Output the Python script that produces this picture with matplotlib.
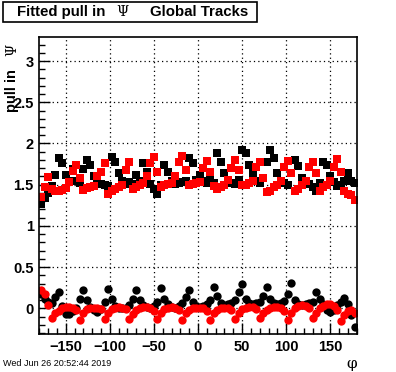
import numpy as np
import matplotlib.pyplot as plt
from matplotlib.patches import Rectangle
from matplotlib.ticker import MultipleLocator, FuncFormatter

# phi bin centres, 4 degree bins
phi = np.arange(-178, 180, 4)

# upper band: squares
black_sq = [1.27, 1.34, 1.40, 1.48, 1.62, 1.82, 1.76, 1.62, 1.55, 1.69,
            1.55, 1.52, 1.69, 1.80, 1.74, 1.60, 1.55, 1.51, 1.50, 1.49,
            1.84, 1.77, 1.64, 1.55, 1.51, 1.53, 1.51, 1.62, 1.55, 1.76,
            1.66, 1.51, 1.45, 1.39, 1.50, 1.74, 1.66, 1.55, 1.51, 1.52,
            1.53, 1.55, 1.82, 1.76, 1.56, 1.62, 1.54, 1.52, 1.60, 1.52,
            1.88, 1.78, 1.64, 1.55, 1.52, 1.51, 1.56, 1.92, 1.88, 1.74,
            1.64, 1.55, 1.52, 1.58, 1.78, 1.92, 1.82, 1.64, 1.55, 1.52,
            1.50, 1.64, 1.80, 1.73, 1.58, 1.54, 1.51, 1.47, 1.43, 1.52,
            1.78, 1.74, 1.60, 1.53, 1.49, 1.50, 1.55, 1.64, 1.54, 1.52]
red_sq = [1.35, 1.47, 1.59, 1.45, 1.43, 1.43, 1.44, 1.46, 1.53, 1.67,
          1.74, 1.58, 1.44, 1.46, 1.47, 1.48, 1.60, 1.66, 1.76, 1.39,
          1.42, 1.45, 1.47, 1.50, 1.68, 1.77, 1.45, 1.47, 1.50, 1.52,
          1.60, 1.76, 1.84, 1.66, 1.47, 1.50, 1.51, 1.52, 1.60, 1.78,
          1.85, 1.68, 1.50, 1.51, 1.52, 1.53, 1.70, 1.79, 1.66, 1.48,
          1.45, 1.47, 1.50, 1.56, 1.70, 1.80, 1.68, 1.50, 1.50, 1.52,
          1.54, 1.72, 1.78, 1.58, 1.41, 1.43, 1.47, 1.50, 1.54, 1.71,
          1.79, 1.64, 1.43, 1.45, 1.50, 1.55, 1.71, 1.77, 1.64, 1.43,
          1.47, 1.50, 1.55, 1.72, 1.81, 1.66, 1.42, 1.39, 1.37, 1.31]

# lower band: circles
black_ci = [0.18, 0.12, 0.08, 0.07, 0.14, 0.20, 0.03, -0.07, -0.07, -0.03,
            0.00, 0.12, 0.22, 0.10, 0.02, -0.02, -0.04, -0.01, 0.08, 0.24,
            0.12, 0.03, 0.01, 0.00, 0.01, 0.04, 0.12, 0.22, 0.10, 0.04,
            0.02, 0.01, 0.03, 0.08, 0.25, 0.12, 0.05, 0.02, 0.01, 0.03,
            0.06, 0.14, 0.22, 0.08, 0.03, 0.02, 0.03, 0.05, 0.10, 0.26,
            0.15, 0.06, 0.04, 0.05, 0.06, 0.10, 0.20, 0.30, 0.12, 0.06,
            0.05, 0.06, 0.08, 0.15, 0.26, 0.12, 0.06, 0.05, 0.06, 0.09,
            0.18, 0.31, 0.10, 0.05, 0.04, 0.05, 0.06, 0.08, 0.20, 0.12,
            0.05, -0.02, -0.04, -0.02, 0.04, 0.08, 0.13, 0.05, -0.08, -0.22]
red_ci = [0.22, 0.17, 0.04, -0.12, -0.06, -0.03, 0.00, 0.02, 0.02, 0.01,
          -0.02, -0.14, -0.05, -0.01, 0.00, 0.01, 0.01, -0.01, -0.13, -0.05,
          -0.01, 0.01, 0.02, 0.01, -0.01, -0.13, -0.07, -0.02, 0.00, 0.02,
          0.02, 0.01, -0.03, -0.13, -0.05, -0.01, 0.00, 0.02, 0.01, -0.02,
          -0.14, -0.06, -0.02, 0.00, 0.01, 0.01, 0.00, -0.03, -0.14, -0.06,
          -0.02, 0.00, 0.01, 0.01, -0.02, -0.13, -0.05, -0.01, 0.01, 0.02,
          0.02, -0.01, -0.12, -0.06, -0.02, 0.00, 0.02, 0.02, 0.00, -0.03,
          -0.14, -0.05, 0.00, 0.03, 0.04, 0.03, 0.00, -0.12, -0.06, 0.00,
          0.03, 0.05, 0.05, 0.03, -0.02, -0.15, -0.08, -0.03, -0.02, -0.06]

bold = dict(family='Liberation Sans', weight='bold')

fig = plt.figure(figsize=(3.96, 3.72), dpi=100)
ax = fig.add_axes([0.0992, 0.1022, 0.8015, 0.798])

ax.plot(phi, black_sq, 's', color='black', ms=5.3, mew=0)
ax.plot(phi, red_sq, 's', color='red', ms=5.3, mew=0)
ax.plot(phi, black_ci, 'o', color='black', ms=6.0, mew=0)
ax.plot(phi, red_ci, 'o', color='red', ms=6.0, mew=0)

ax.set_xlim(-180, 180)
ax.set_ylim(-0.31, 3.29)
ax.xaxis.set_major_locator(MultipleLocator(50))
ax.xaxis.set_minor_locator(MultipleLocator(10))
ax.yaxis.set_major_locator(MultipleLocator(0.5))
ax.yaxis.set_minor_locator(MultipleLocator(0.1))
ax.yaxis.set_major_formatter(FuncFormatter(lambda v, p: '%g' % v))
ax.xaxis.set_major_formatter(FuncFormatter(lambda v, p: ('%g' % v).replace('-', '\u2212')))
ax.tick_params(which='both', direction='in', top=False, right=False, width=1)
ax.tick_params(which='major', length=8, pad=4)
ax.tick_params(which='minor', length=4)
for lab in ax.get_xticklabels() + ax.get_yticklabels():
    lab.set_fontproperties('Liberation Sans')
    lab.set_fontweight('bold')
    lab.set_fontsize(10.5)
ax.grid(True, which='major', color='black', linestyle=(0, (1, 2.5)), linewidth=0.9)
for sp in ax.spines.values():
    sp.set_linewidth(1.2)

# title box
fig.patches.append(Rectangle((3 / 396, 1 - 22 / 372), 254 / 396, 20 / 372,
                             transform=fig.transFigure, fill=False,
                             edgecolor='black', linewidth=1.2))
fig.text(17 / 396, 1 - 12 / 372, 'Fitted pull in', va='center', ha='left', fontsize=10.8, **bold)
fig.text(122 / 396, 1 - 12 / 372, '\u03a8', va='center', ha='center', fontsize=10, family='DejaVu Serif')
fig.text(150 / 396, 1 - 12 / 372, 'Global Tracks', va='center', ha='left', fontsize=10.8, **bold)

# axis titles
fig.text(12 / 396, 1 - 69 / 372, 'pull in', rotation=90, va='top', ha='center', fontsize=10.5, **bold)
fig.text(12 / 396, 1 - 50 / 372, '\u03a8', rotation=90, va='center', ha='center', fontsize=10, family='DejaVu Serif')
fig.text(352 / 396, 1 - 364 / 372, '\u03c6', va='center', ha='center', fontsize=11, family='DejaVu Serif')
fig.text(3 / 396, 1 - 364 / 372, 'Wed Jun 26 20:52:44 2019', va='center', ha='left', fontsize=6.5,
         family='Liberation Sans')

fig.savefig('out.png', dpi=100)
